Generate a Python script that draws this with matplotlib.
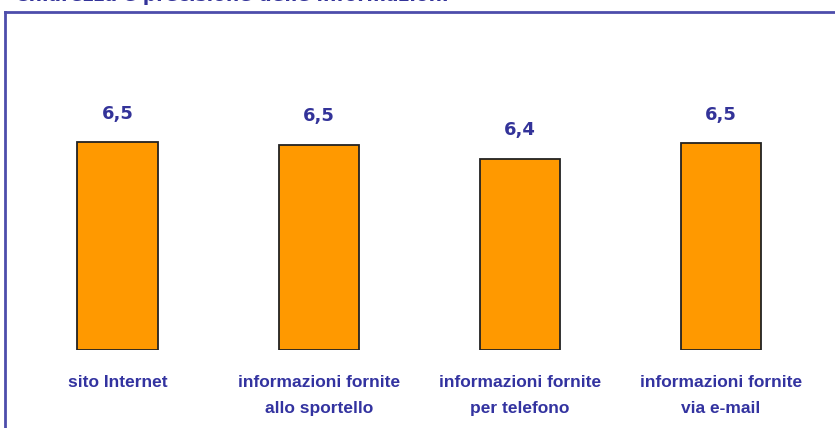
import matplotlib
matplotlib.use("Agg")
import matplotlib.pyplot as plt
from matplotlib.lines import Line2D

categories = ["sito Internet", "informazioni fornite\nallo sportello",
              "informazioni fornite\nper telefono", "informazioni fornite\nvia e-mail"]
values = [6.50, 6.48, 6.38, 6.49]
labels = ["6,5", "6,5", "6,4", "6,5"]
title = "Chiarezza e precisione delle informazioni"
baseline = 5.0

W, H = 835, 428
fig = plt.figure(figsize=(W / 100, H / 100), dpi=100)
fig.patch.set_facecolor("white")

# axes: left at px 5, top at px 12, bottom (baseline) at px 350
ax = fig.add_axes([5 / W, (H - 350) / H, (W - 5) / W, (350 - 12) / H])
ax.set_facecolor("white")
xs = list(range(len(values)))
ax.bar(xs, [v - baseline for v in values], width=0.40, bottom=baseline, color="#FF9900",
       edgecolor="#222222", linewidth=1.3, zorder=3)
ax.set_ylim(baseline, 7.437)
ax.set_xlim(-0.56, 3.567)
ax.set_xticks([])
ax.set_yticks([])
for s in ax.spines.values():
    s.set_visible(False)

# frame: top and left border in blue
frame_c = "#4d4dab"
fig.add_artist(Line2D([5 / W, 1.0], [1 - 12 / H, 1 - 12 / H], color=frame_c, lw=2, transform=fig.transFigure))
fig.add_artist(Line2D([5 / W, 5 / W], [1 - 12 / H, 0], color=frame_c, lw=2, transform=fig.transFigure))

for x, v, lab in zip(xs, values, labels):
    ax.annotate(lab, (x, v), xytext=(0, 14), textcoords="offset points", ha="center", va="bottom",
                fontsize=13, fontweight="bold", color="#333399", family="DejaVu Sans")

for x, c in zip(xs, categories):
    ax.annotate(c, (x, baseline), xytext=(0, -18), textcoords="offset points", ha="center", va="top",
                fontsize=12.5, fontweight="bold", color="#3333a0", family="Liberation Sans",
                linespacing=1.95, annotation_clip=False)

fig.text(15 / W, 1 - 1 / H, title, ha="left", va="baseline", fontsize=13.4, fontweight="bold",
         color="#333399", family="DejaVu Sans")

fig.savefig("out.png", dpi=100)
